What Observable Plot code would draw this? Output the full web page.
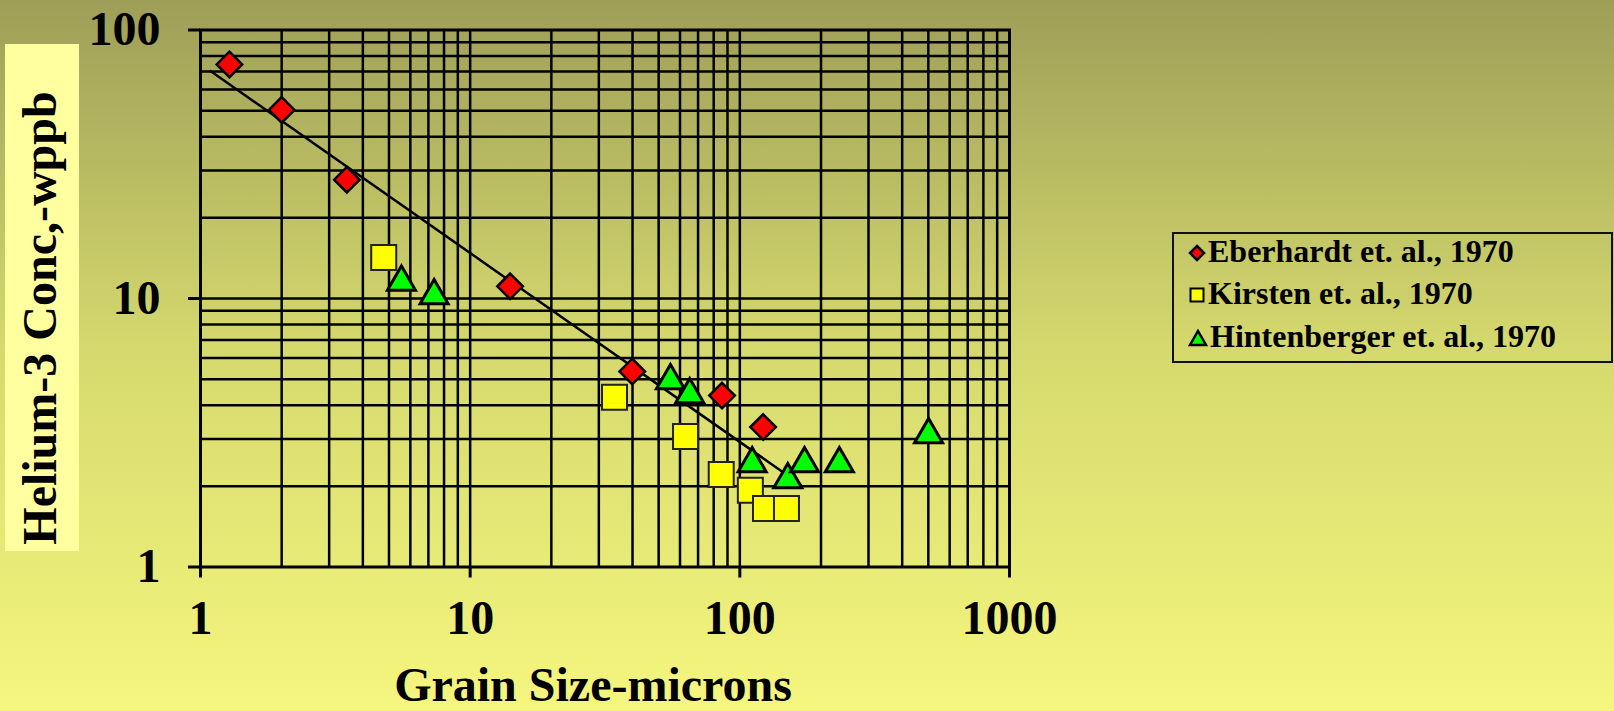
<!DOCTYPE html>
<html>
<head>
<meta charset="utf-8">
<script src="https://cdn.jsdelivr.net/npm/d3@7"></script>
<script src="https://cdn.jsdelivr.net/npm/@observablehq/plot@0.6"></script>
<style>
  html, body { margin: 0; padding: 0; }
  body {
    width: 1614px; height: 711px; overflow: hidden; position: relative;
    background: linear-gradient(to bottom, #9e9e58 0%, #d6da6e 50%, #f5f67e 100%);
    font-family: "Liberation Serif", "Times New Roman", serif;
  }
  #chart { position: absolute; left: 0; top: 0; }
  #ylab { position: absolute; left: 5px; top: 44px; }
  #xlab { position: absolute; left: 0; top: 0; pointer-events: none; }
  #legend {
    position: absolute; left: 1172px; top: 232px; width: 437px; height: 127px;
    border: 2.5px solid #111; box-sizing: content-box;
  }
  .row { position: absolute; left: 14px; font-size: 32px; font-weight: bold; color: #000; white-space: nowrap; line-height: 1; }
  .row svg { vertical-align: baseline; margin-right: 2px; }
</style>
</head>
<body>
<div id="chart"></div>
<svg id="ylab" width="74" height="507">
  <rect x="0" y="0" width="74" height="507" fill="#ffffa0"></rect>
  <text transform="translate(51,274) rotate(-90)" text-anchor="middle" font-family="Liberation Serif, Times New Roman, serif" font-weight="bold" font-size="48" fill="#000">Helium-3 Conc,-wppb</text>
</svg>
<svg id="xlab" width="1614" height="711">
  <text x="593" y="701" text-anchor="middle" font-family="Liberation Serif, Times New Roman, serif" font-weight="bold" font-size="48" fill="#000">Grain Size-microns</text>
</svg>
<div id="legend"></div>
<script>
// ---- data ----
const seriesNames = ["Eberhardt et. al., 1970", "Kirsten et. al., 1970", "Hintenberger et. al., 1970"];

const eberhardtX = [1.28, 2.00, 3.49, 14.06, 39.9, 85.9, 122];
const eberhardtY = [74.4, 50.4, 27.7, 11.1, 5.35, 4.35, 3.32];

const kirstenX = [4.78, 34.3, 62.9, 85.3, 109.4, 124.5, 148.9];
const kirstenY = [14.2, 4.29, 3.06, 2.21, 1.93, 1.65, 1.65];

const hintenbergerX = [5.56, 7.35, 55.3, 65.2, 111.1, 150.6, 173.7, 233.9, 501];
const hintenbergerY = [11.9, 10.6, 5.12, 4.54, 2.51, 2.19, 2.51, 2.51, 3.22];

const trendX = [1.089, 167.8];
const trendY = [70.3, 2.03];

const xTicks = [1, 10, 100, 1000];
const yTicks = [1, 10, 100];
const xGrid = [2, 3, 4, 5, 6, 7, 8, 9, 20, 30, 40, 50, 60, 70, 80, 90, 200, 300, 400, 500, 600, 700, 800, 900];
const yGrid = [2, 3, 4, 5, 6, 7, 8, 9, 20, 30, 40, 50, 60, 70, 80, 90];

// ---- build tables ----
const zip = (xs, ys) => xs.map((x, i) => ({x, y: ys[i]}));
const eberhardt = zip(eberhardtX, eberhardtY);
const kirsten = zip(kirstenX, kirstenY);
const hintenberger = zip(hintenbergerX, hintenbergerY);
const trend = zip(trendX, trendY);

const font = "'Liberation Serif', 'Times New Roman', serif";

const chart = Plot.plot({
  width: 1614,
  height: 711,
  marginLeft: 200,
  marginRight: 605,
  marginTop: 29.5,
  marginBottom: 144.5,
  x: {type: "log", domain: [1, 1000]},
  y: {type: "log", domain: [1, 100]},
  style: {background: "transparent", color: "#000", fontFamily: font, fontWeight: "bold", fontSize: "48px", overflow: "visible"},
  marks: [
    Plot.ruleX(xGrid, {stroke: "#000", strokeWidth: 2.5}),
    Plot.ruleY(yGrid, {stroke: "#000", strokeWidth: 2.5}),
    Plot.ruleX(xTicks.slice(1, -1), {stroke: "#000", strokeWidth: 2.5}),
    Plot.ruleY(yTicks.slice(1, -1), {stroke: "#000", strokeWidth: 2.5}),
    Plot.frame({stroke: "#000", strokeWidth: 3}),
    Plot.axisX({ticks: xTicks, tickFormat: d => String(d), tickSize: 11, tickPadding: 22, fontSize: 48, fontWeight: "bold", fontFamily: font, strokeWidth: 3, label: null}),
    Plot.axisY({ticks: yTicks, tickFormat: d => String(d), tickSize: 12, tickPadding: 28, fontSize: 48, fontWeight: "bold", fontFamily: font, strokeWidth: 3, label: null}),
    Plot.line(trend, {x: "x", y: "y", stroke: "#000", strokeWidth: 2.5}),
    Plot.dot(kirsten, {x: "x", y: "y", symbol: "square", r: 14.1, fill: "#ffff00", stroke: "#222", strokeWidth: 2}),
    Plot.dot(hintenberger, {x: "x", y: "y", symbol: "triangle", r: 10.4, dy: 4, fill: "#00ff00", stroke: "#000", strokeWidth: 3}),
    Plot.dot(eberhardt, {x: "x", y: "y", symbol: "diamond2", r: 11.5, fill: "#ff0000", stroke: "#000", strokeWidth: 2.5})
  ]
});
document.getElementById("chart").appendChild(chart);

// ---- legend ----
const legendSymbols = [
  '<svg width="18" height="18" viewBox="-9 -9 18 18"><path d="M0,-7L7,0L0,7L-7,0Z" fill="#ff0000" stroke="#000" stroke-width="2.5"/></svg>',
  '<svg width="18" height="18" viewBox="-9 -9 18 18"><rect x="-6.5" y="-6.5" width="13" height="13" fill="#ffff00" stroke="#000" stroke-width="2"/></svg>',
  '<svg width="20" height="18" viewBox="-10 -10 20 18"><path d="M0,-8L8,6L-8,6Z" fill="#00ff00" stroke="#000" stroke-width="2.5"/></svg>'
];
const legend = document.getElementById("legend");
const rowTops = [1, 43, 86];
seriesNames.forEach((name, i) => {
  const row = document.createElement("div");
  row.className = "row";
  row.style.top = rowTops[i] + "px";
  row.innerHTML = legendSymbols[i] + name;
  legend.appendChild(row);
});
</script>
</body>
</html>
